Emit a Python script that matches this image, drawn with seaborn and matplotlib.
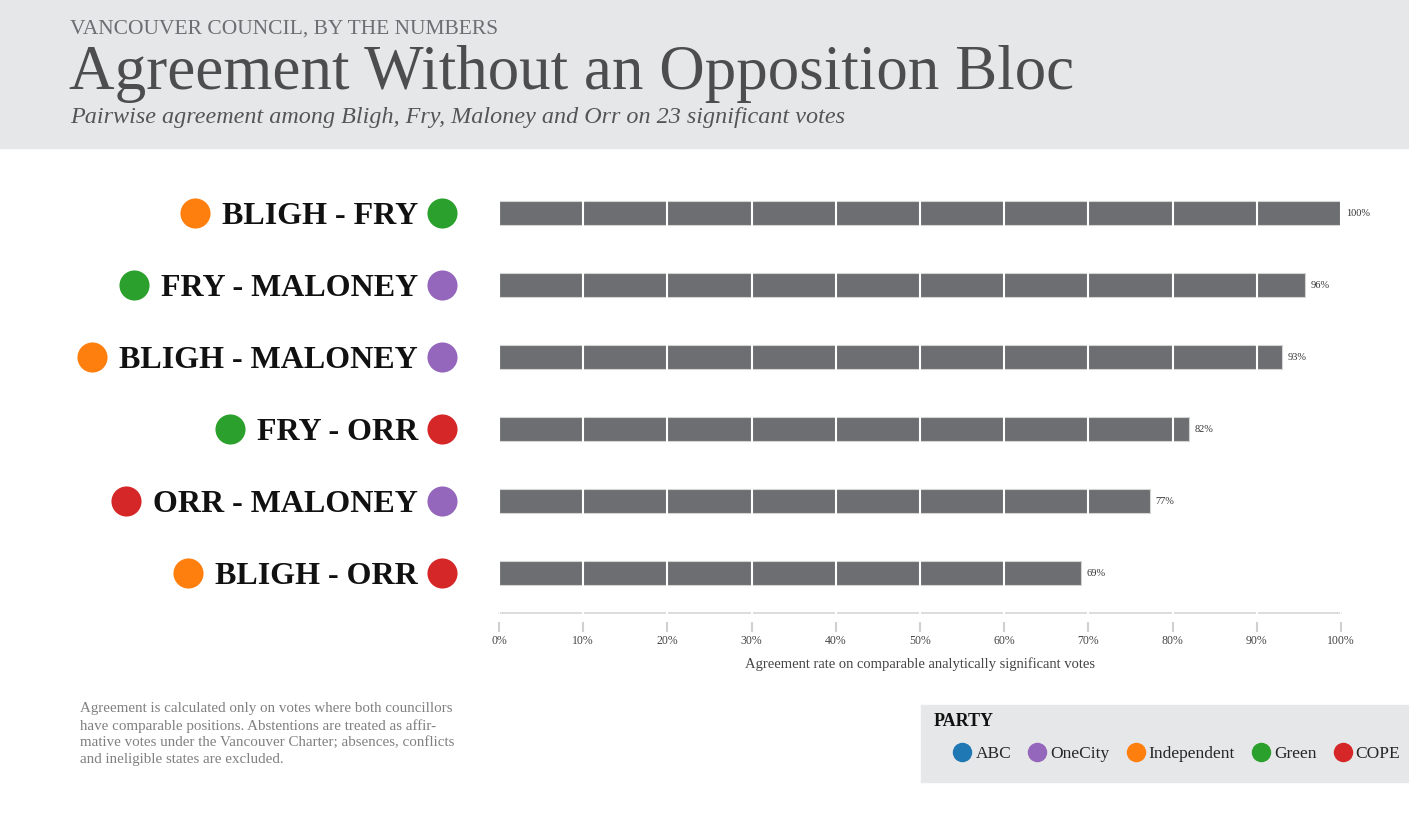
import matplotlib
matplotlib.use("Agg")
import matplotlib.pyplot as plt
from matplotlib.lines import Line2D
from matplotlib.patches import Rectangle
import seaborn as sns
import pandas as pd

# data
pairs = ["BLIGH - FRY", "FRY - MALONEY", "BLIGH - MALONEY", "FRY - ORR", "ORR - MALONEY", "BLIGH - ORR"]
left_party = ["Independent", "Green", "Independent", "Green", "COPE", "Independent"]
right_party = ["Green", "OneCity", "OneCity", "COPE", "OneCity", "COPE"]
agreement = [100.0, 95.7, 93.0, 82.0, 77.3, 69.1]
value_labels = ["100%", "96%", "93%", "82%", "77%", "69%"]
parties = ["ABC", "OneCity", "Independent", "Green", "COPE"]
party_colors = {"ABC": "#1f77b4", "OneCity": "#9467bd", "Independent": "#ff7f0e",
                "Green": "#2ca02c", "COPE": "#d62728"}
x_ticks = [0, 10, 20, 30, 40, 50, 60, 70, 80, 90, 100]

df = pd.DataFrame({"pair": pairs, "agreement": agreement})

sns.set_theme(style="white")
plt.rcParams["font.family"] = ["Liberation Serif", "DejaVu Serif"]

W, H = 1409, 827
fig = plt.figure(figsize=(W / 100, H / 100), dpi=100)

# header band
fig.add_artist(Rectangle((0, 1 - 148 / H), 1, 148 / H, transform=fig.transFigure,
                         color="#e6e7e8", zorder=0))
fig.text(70 / W, 1 - 29 / H, "VANCOUVER COUNCIL, BY THE NUMBERS", fontsize=15.5,
         color="#6d6e71", va="center")
fig.text(69 / W, 1 - 74 / H, "Agreement Without an Opposition Bloc", fontsize=45.4,
         color="#4d4d4f", va="center")
fig.text(70 / W, 1 - 117 / H, "Pairwise agreement among Bligh, Fry, Maloney and Orr on 23 significant votes",
         fontsize=17.4, style="italic", color="#555555", va="center")

ax_l, ax_w = 499, 842
ax_top, ax_bot = 180, 622
ax = fig.add_axes([ax_l / W, 1 - ax_bot / H, ax_w / W, (ax_bot - ax_top) / H])

sns.barplot(data=df, x="agreement", y="pair", orient="h", color="#6d6e71",
            width=0.32, edgecolor="#d4d4d4", linewidth=0.8, saturation=1, ax=ax)

ax.set_xlim(0, 100)
ax.set_ylim(5 + 49 / 72, -33 / 72)
ax.set_xticks(x_ticks)
ax.set_xticklabels([f"{t}%" for t in x_ticks], fontsize=8.5, color="#444444")
ax.tick_params(axis="x", bottom=True, length=7, width=1.5, color="#d0d0d0", pad=2)
ax.set_yticks([])
ax.set_ylabel("")
ax.set_xlabel("Agreement rate on comparable analytically significant votes",
              fontsize=10.5, color="#444444", labelpad=8)
for s in ax.spines.values():
    s.set_visible(False)
ax.grid(axis="x", color="white", linewidth=1.5)
ax.set_axisbelow(False)
ax.axhline(5 + 40 / 72, color="#d6d6d6", linewidth=1.2, clip_on=False)

for i, (v, lab) in enumerate(zip(agreement, value_labels)):
    ax.annotate(lab, (v, i), xytext=(4, 0), textcoords="offset points",
                fontsize=7.5, color="#333333", va="center", ha="left")

# row labels with party dots
ytr = ax.get_yaxis_transform()
texts = []
for i, p in enumerate(pairs):
    t = ax.annotate(p, ((418 - ax_l) / ax_w, i), xycoords=ytr, xytext=(0, -2.5),
                    textcoords="offset points", ha="right", va="center",
                    fontsize=23, fontweight="bold", color="#111111", annotation_clip=False)
    texts.append(t)
    ax.scatter([(442 - ax_l) / ax_w], [i], s=470, color=party_colors[right_party[i]],
               transform=ytr, clip_on=False, linewidths=0, zorder=5)

fig.canvas.draw()
r = fig.canvas.get_renderer()
for i, t in enumerate(texts):
    bb = t.get_window_extent(r)
    xl = (bb.x0 - 27 - ax_l) / ax_w
    ax.scatter([xl], [i], s=470, color=party_colors[left_party[i]],
               transform=ytr, clip_on=False, linewidths=0, zorder=5)

# footnote
fig.text(80 / W, 1 - 702 / H,
         "Agreement is calculated only on votes where both councillors\n"
         "have comparable positions. Abstentions are treated as affir-\n"
         "mative votes under the Vancouver Charter; absences, conflicts\n"
         "and ineligible states are excluded.",
         fontsize=10.8, color="#808080", va="top", linespacing=1.35)

# party legend box
fig.add_artist(Rectangle((921 / W, 1 - 782 / H), (W - 921) / W, 77 / H,
                         transform=fig.transFigure, color="#e6e7e8", zorder=0))
fig.text(934 / W, 1 - 722 / H, "PARTY", fontsize=13, fontweight="bold",
         color="#111111", va="center")
handles = [Line2D([], [], marker="o", linestyle="", markersize=14,
                  markerfacecolor=party_colors[p], markeredgewidth=0, label=p) for p in parties]
leg = fig.legend(handles=handles, loc="center left", bbox_to_anchor=(952 / W, 1 - 754 / H),
                 ncol=5, frameon=False, fontsize=12.5, borderpad=0, borderaxespad=0,
                 handletextpad=0.15, columnspacing=0.9, handlelength=1.2)

fig.savefig("out.png", dpi=100)
